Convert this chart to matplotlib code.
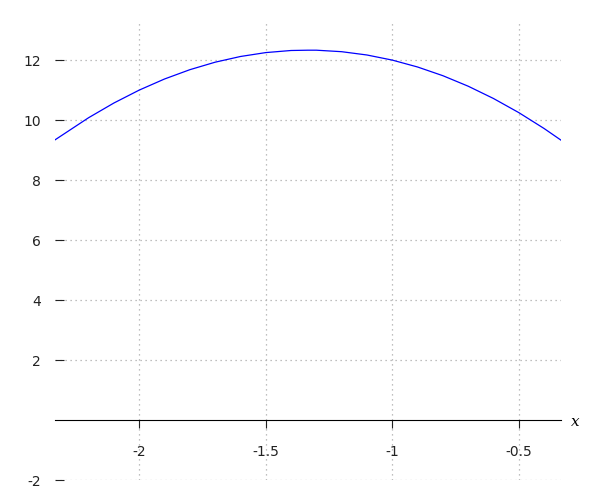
import matplotlib.pyplot as plt

# точки, зчитані з кривої
x_vals = [-2.333, -2.2, -2.1, -2.0, -1.9, -1.8, -1.7, -1.6, -1.5, -1.4, -1.333,
          -1.3, -1.2, -1.1, -1.0, -0.9, -0.8, -0.7, -0.6, -0.5, -0.4, -0.333]
y_vals = [9.34, 10.08, 10.57, 11.0, 11.37, 11.68, 11.93, 12.12, 12.25, 12.32, 12.33,
          12.33, 12.28, 12.17, 12.0, 11.77, 11.48, 11.13, 10.72, 10.25, 9.72, 9.33]

x_ticks = [-2, -1.5, -1, -0.5]
x_labels = ["-2", "-1.5", "-1", "-0.5"]
y_ticks = [-2, 2, 4, 6, 8, 10, 12]
y_labels = ["-2", "2", "4", "6", "8", "10", "12"]

plt.rcParams["axes.unicode_minus"] = False

fig = plt.figure(figsize=(6, 5), dpi=100)
ax = fig.add_axes([55 / 600, 20 / 500, 506 / 600, 458 / 500])

ax.plot(x_vals, y_vals, color="blue", linewidth=0.9)

ax.set_xlim(-2.333, -0.333)
ax.set_ylim(-2, 13.27)

ax.set_xticks(x_ticks)
ax.set_xticklabels(x_labels)
ax.set_yticks(y_ticks)
ax.set_yticklabels(y_labels)

ax.grid(True, linestyle=(0, (1, 3)), color="#aaaaaa", linewidth=0.9)

ax.spines["top"].set_visible(False)
ax.spines["right"].set_visible(False)
ax.spines["left"].set_visible(False)
ax.spines["bottom"].set_position(("data", 0))

ax.tick_params(axis="x", direction="out", length=6, pad=12, labelsize=10, colors="#222222")
ax.tick_params(axis="y", direction="in", length=6.5, pad=10, labelsize=10, colors="#222222")

fig.text(575 / 600, 1 - 422 / 500, "x", ha="center", va="center", fontsize=11,
         family="DejaVu Serif", style="italic")

plt.savefig("out.png")
